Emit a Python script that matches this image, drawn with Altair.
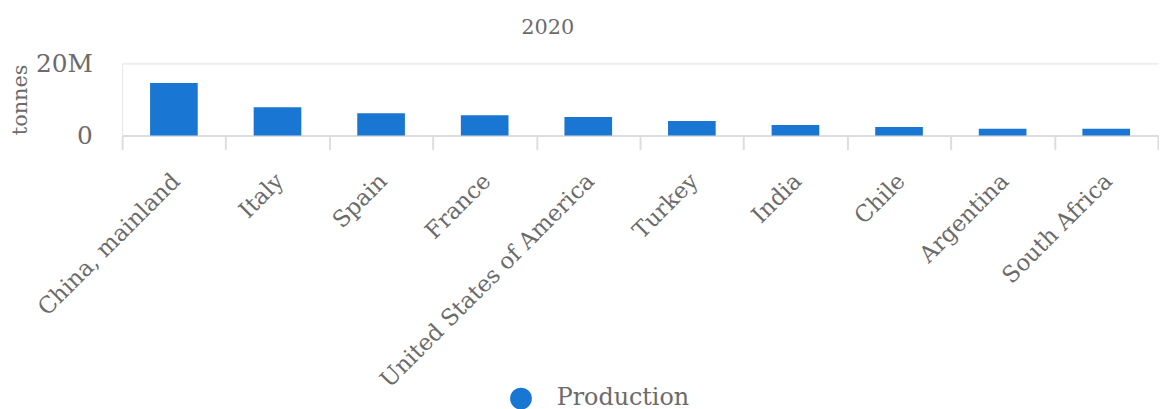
import altair as alt
import pandas as pd

countries = ["China, mainland", "Italy", "Spain", "France", "United States of America",
             "Turkey", "India", "Chile", "Argentina", "South Africa"]
production = [14500000, 7800000, 6200000, 5600000, 5100000,
              4000000, 2900000, 2400000, 1900000, 1900000]
series = ["Production"] * len(countries)

df = pd.DataFrame({"country": countries, "value": production, "series": series})

FONT = "DejaVu Serif"
GREY = "#6b6b6b"

chart = alt.Chart(df).mark_bar(color="#1976d2", width=alt.RelativeBandSize(0.46)).encode(
    x=alt.X("country:N", sort=countries, title=None,
            scale=alt.Scale(paddingInner=0, paddingOuter=0),
            axis=alt.Axis(labelAngle=-45, labelAlign="right", labelBaseline="middle",
                          labelFont=FONT, labelFontSize=23, labelColor=GREY, labelLimit=0,
                          tickBand="extent", tickSize=14, tickColor="#dddddd",
                          domainColor="#dddddd", domainWidth=2, tickWidth=2,
                          labelPadding=28, labelOffset=2, grid=False)),
    y=alt.Y("value:Q", title="tonnes",
            scale=alt.Scale(domain=[0, 20000000]),
            axis=alt.Axis(values=[0, 20000000],
                          labelExpr="datum.value === 0 ? '0' : format(datum.value, '~s')",
                          labelFont=FONT, labelFontSize=25, labelColor=GREY,
                          titleFont=FONT, titleFontSize=21, titleColor=GREY,
                          titleFontWeight="normal", titlePadding=5,
                          ticks=False, domain=True, domainColor="#e6e6e6",
                          grid=True, gridColor="#eeeeee", gridWidth=2,
                          labelPadding=30)),
    color=alt.Color("series:N", scale=alt.Scale(range=["#1976d2"]),
                    legend=alt.Legend(title=None, orient="none", legendX=390, legendY=326,
                                      symbolType="circle", symbolSize=480,
                                      labelFont=FONT, labelFontSize=24, labelColor=GREY,
                                      labelOffset=24)),
).properties(
    width=1044, height=73,
    title=alt.TitleParams("2020", font=FONT, fontSize=21, color=GREY,
                          fontWeight="normal", offset=13, dx=-93),
    padding={"left": 1, "top": 8, "right": 0, "bottom": 0},
).configure_view(stroke=None)

chart.save("out.html", embed_options={"renderer": "svg", "actions": False})
